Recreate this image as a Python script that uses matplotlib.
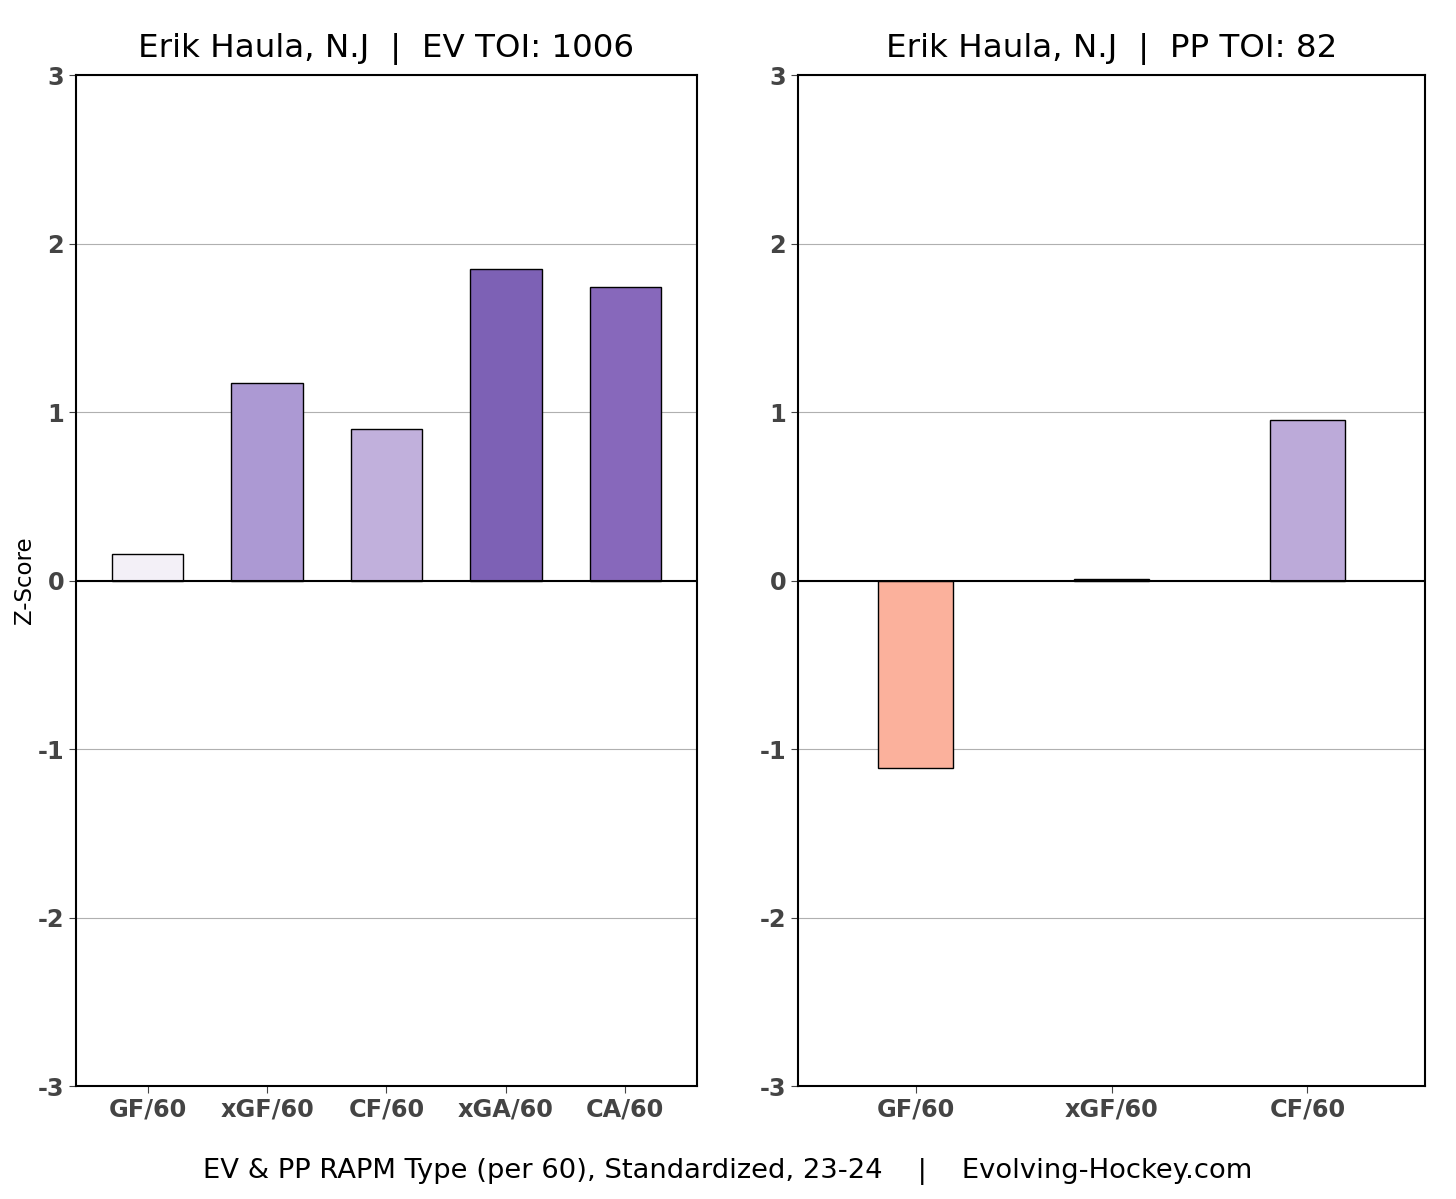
import matplotlib
matplotlib.use("Agg")
import matplotlib.pyplot as plt

# Even strength RAPM z-scores
ev_labels = ["GF/60", "xGF/60", "CF/60", "xGA/60", "CA/60"]
ev_values = [0.16, 1.17, 0.90, 1.85, 1.74]
ev_colors = ["#f3f0f7", "#ac99d3", "#c1b0dc", "#7d61b5", "#8768bb"]

# Power play RAPM z-scores
pp_labels = ["GF/60", "xGF/60", "CF/60"]
pp_values = [-1.11, 0.01, 0.95]
pp_colors = ["#fbb19c", "#f7f4f9", "#bcaad9"]

ev_title = "Erik Haula, N.J  |  EV TOI: 1006"
pp_title = "Erik Haula, N.J  |  PP TOI: 82"
footer = "EV & PP RAPM Type (per 60), Standardized, 23-24    |    Evolving-Hockey.com"

fig = plt.figure(figsize=(14.56, 11.99), dpi=100)
ax1 = fig.add_axes([0.0522, 0.0942, 0.4265, 0.8432])
ax2 = fig.add_axes([0.5481, 0.0942, 0.4306, 0.8432])


def draw(ax, labels, values, colors, width, title):
    x = list(range(len(labels)))
    ax.set_axisbelow(True)
    ax.grid(axis="y", color="#b0b0b0", linewidth=0.8)
    ax.bar(x, values, width=width, color=colors, edgecolor="black", linewidth=1.0)
    ax.axhline(0, color="black", linewidth=1.5)
    ax.set_ylim(-3, 3)
    ax.set_xlim(-0.6, len(labels) - 0.4)
    ax.set_yticks([-3, -2, -1, 0, 1, 2, 3])
    ax.set_yticklabels(["-3", "-2", "-1", "0", "1", "2", "3"])
    ax.set_xticks(x)
    ax.set_xticklabels(labels)
    for lab in ax.get_xticklabels() + ax.get_yticklabels():
        lab.set_fontweight("bold")
        lab.set_color("#444444")
        lab.set_fontsize(17.3)
    for sp in ax.spines.values():
        sp.set_linewidth(1.5)
        sp.set_color("black")
    ax.tick_params(axis="both", color="#444444", length=5)
    ax.set_title(title, fontsize=23.4, pad=13)


draw(ax1, ev_labels, ev_values, ev_colors, 0.6, ev_title)
draw(ax2, pp_labels, pp_values, pp_colors, 0.38, pp_title)
ax1.set_ylabel("Z-Score", fontsize=16.5, labelpad=1)

fig.text(0.5, 0.012, footer, ha="center", va="bottom", fontsize=19.7)

fig.savefig("out.png", dpi=100)
